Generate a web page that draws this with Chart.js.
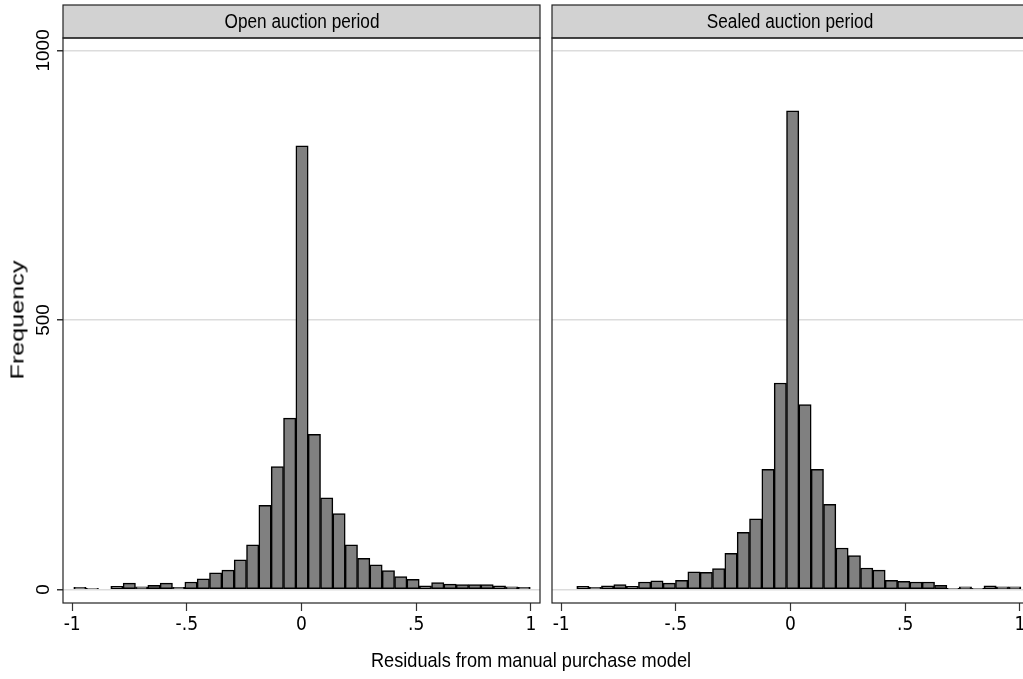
<!DOCTYPE html>
<html>
<head>
<meta charset="utf-8">
<script src="https://cdn.jsdelivr.net/npm/chart.js@4.4.1/dist/chart.umd.min.js"></script>
<style>
  html, body { margin: 0; padding: 0; background: #fff; overflow: hidden; }
  #wrap { position: relative; width: 1023px; height: 679px; overflow: hidden; }
  canvas { position: absolute; top: 0; }
  #openChart { left: 0; }
  #sealedChart { left: 547px; }
  .lbl { position: absolute; white-space: nowrap; color: #000; }
  #ytitle {
    left: 18px; top: 320px;
    font: 18px "Liberation Sans", Arial, sans-serif;
    transform: translate(-50%, -50%) rotate(-90deg) scaleX(1.4);
  }
  #xtitle {
    left: 531px; top: 660px;
    font: 21px "Liberation Sans", Arial, sans-serif;
    transform: translate(-50%, -50%) scaleX(0.865);
  }
</style>
</head>
<body>
<div id="wrap">
  <canvas id="openChart" width="545" height="679"></canvas>
  <canvas id="sealedChart" width="487" height="679"></canvas>
  <div class="lbl" id="ytitle">Frequency</div>
  <div class="lbl" id="xtitle">Residuals from manual purchase model</div>
</div>
<script>
// histogram counts
var binWidth = 0.0538;
var openStart = -0.993;
var openCounts = [4, 2, 0, 6, 12, 5, 8, 12, 4, 14, 20, 31, 36, 55, 83, 156, 228, 318, 823,
                  288, 170, 141, 83, 58, 46, 35, 24, 19, 7, 13, 10, 9, 9, 9, 7, 5, 4];
var sealedStart = -0.932;
var sealedCounts = [6, 4, 7, 9, 6, 14, 16, 12, 17, 33, 32, 39, 67, 106, 131, 223, 383, 888,
                    343, 223, 158, 77, 63, 40, 36, 17, 15, 14, 14, 8, 2, 5, 2, 7, 5, 5];
var panelTitles = ["Open auction period", "Sealed auction period"];
var xTicks = [-1, -0.5, 0, 0.5, 1];
var xTickLabels = ["-1", "-.5", "0", ".5", "1"];
var yTicks = [0, 500, 1000];
var yTickLabels = ["0", "500", "1000"];

var narrow = '"DejaVu Sans Condensed", "Liberation Sans Narrow", sans-serif';
var regular = '"Liberation Sans", Arial, sans-serif';

function toPoints(start, counts) {
  return counts.map((c, i) => ({ x: start + (i + 0.5) * binWidth, y: c }));
}

// gray header strip + frame around the plot region
var panelPlugin = {
  id: 'panel',
  beforeDraw(chart) {
    const ctx = chart.ctx, a = chart.chartArea;
    const opts = chart.options.plugins.panel;
    ctx.save();
    ctx.fillStyle = '#d2d2d2';
    ctx.fillRect(a.left, 5, a.right - a.left, a.top - 5);
    ctx.strokeStyle = '#222';
    ctx.lineWidth = 1.2;
    ctx.strokeRect(a.left, 5, a.right - a.left, a.top - 5);
    ctx.fillStyle = '#000';
    ctx.font = '20px ' + regular;
    ctx.textAlign = 'center';
    ctx.textBaseline = 'middle';
    ctx.translate(opts.cx, (5 + a.top) / 2 + 1);
    ctx.scale(0.86, 1);
    ctx.fillText(opts.title, 0, 0);
    ctx.restore();
  },
  afterDraw(chart) {
    const ctx = chart.ctx, a = chart.chartArea;
    ctx.save();
    ctx.strokeStyle = '#222';
    ctx.lineWidth = 1.2;
    ctx.strokeRect(a.left, a.top, a.right - a.left, a.bottom - a.top);
    ctx.restore();
  }
};

function makeChart(id, start, counts, title, showY) {
  return new Chart(id, {
    type: 'bar',
    data: {
      datasets: [{
        data: toPoints(start, counts),
        backgroundColor: '#808080',
        borderColor: '#000',
        borderWidth: 1.5,
        borderSkipped: false,
        barPercentage: 1,
        categoryPercentage: 1
      }]
    },
    options: {
      responsive: false,
      animation: false,
      layout: { padding: { top: 38, left: showY ? 0 : 5, right: 5, bottom: 0 } },
      plugins: {
        legend: { display: false },
        tooltip: { enabled: false },
        panel: { title: title, cx: showY ? 302 : 243 }
      },
      scales: {
        x: {
          type: 'linear',
          min: -1.04,
          max: 1.04,
          offset: false,
          afterBuildTicks: s => { s.ticks = xTicks.map(v => ({ value: v })); },
          afterFit: s => { s.height = 76; },
          grid: { offset: false, drawOnChartArea: false, drawTicks: true, tickLength: 8, tickColor: '#333', tickWidth: 1.2 },
          border: { display: false },
          ticks: {
            callback: (v, i) => xTickLabels[i],
            font: { family: narrow, size: 19 },
            color: '#000',
            padding: 3,
            maxRotation: 0,
            autoSkip: false
          }
        },
        y: {
          min: -25,
          max: 1023,
          afterBuildTicks: s => { s.ticks = yTicks.map(v => ({ value: v })); },
          afterFit: s => { s.width = showY ? 63 : 0; },
          grid: { color: '#dcdcdc', lineWidth: 1.5, tickColor: '#333', tickLength: 6, drawTicks: showY },
          border: { display: false },
          ticks: {
            display: showY,
            callback: (v, i) => yTickLabels[i],
            font: { family: regular, size: 19 },
            color: '#000',
            minRotation: 90,
            maxRotation: 90,
            crossAlign: 'center',
            padding: -8
          }
        }
      }
    },
    plugins: [panelPlugin]
  });
}

makeChart('openChart', openStart, openCounts, panelTitles[0], true);
makeChart('sealedChart', sealedStart, sealedCounts, panelTitles[1], false);
</script>
</body>
</html>
